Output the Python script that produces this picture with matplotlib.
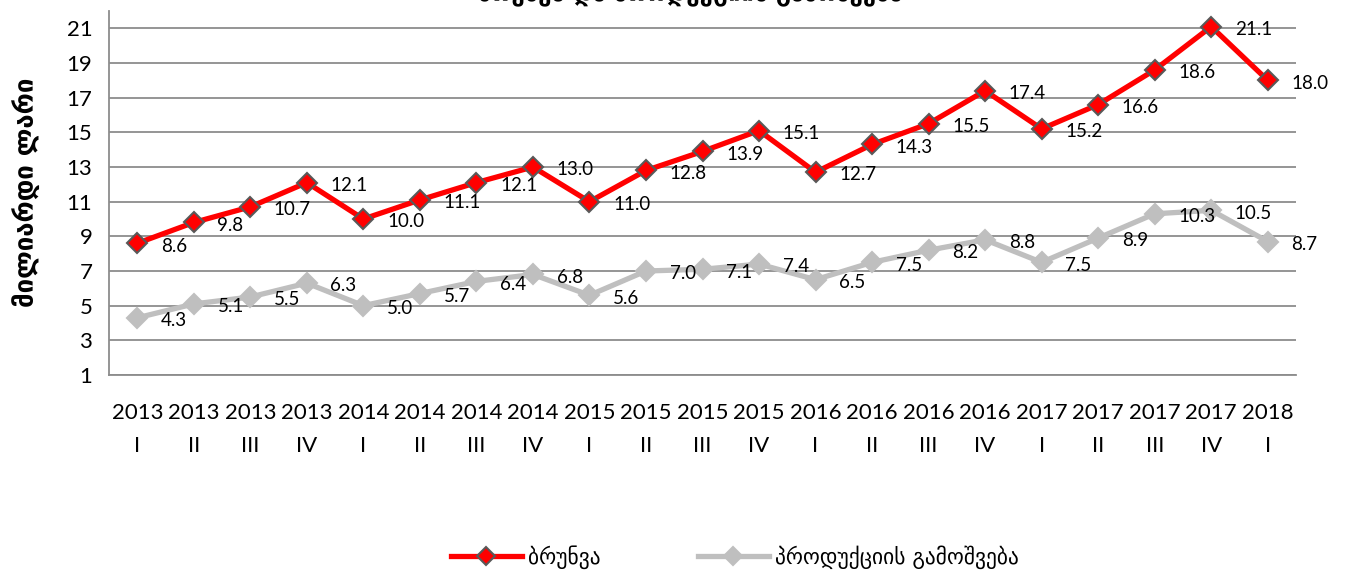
import matplotlib
matplotlib.use("Agg")
import matplotlib.pyplot as plt
import numpy as np

years = ["2013", "2013", "2013", "2013", "2014", "2014", "2014", "2014", "2015", "2015", "2015",
         "2015", "2016", "2016", "2016", "2016", "2017", "2017", "2017", "2017", "2018"]
quarters = ["I", "II", "III", "IV", "I", "II", "III", "IV", "I", "II", "III",
            "IV", "I", "II", "III", "IV", "I", "II", "III", "IV", "I"]
turnover = [8.6, 9.8, 10.7, 12.1, 10.0, 11.1, 12.1, 13.0, 11.0, 12.8, 13.9,
            15.1, 12.7, 14.3, 15.5, 17.4, 15.2, 16.6, 18.6, 21.1, 18.0]
output = [4.3, 5.1, 5.5, 6.3, 5.0, 5.7, 6.4, 6.8, 5.6, 7.0, 7.1,
          7.4, 6.5, 7.5, 8.2, 8.8, 7.5, 8.9, 10.3, 10.5, 8.7]
series_names = ["ბრუნვა", "პროდუქციის გამოშვება"]
ylabel = "მილიარდი ლარი"
title = "ბრუნვა და პროდუქციის გამოშვება"
yticks = [1, 3, 5, 7, 9, 11, 13, 15, 17, 19, 21]

FAM = ["Lato", "DejaVu Sans"]
plt.rcParams["font.family"] = FAM

fig = plt.figure(figsize=(13.45, 5.76), dpi=100)
ax = fig.add_axes([109/1345, 1-375/576, (1296-109)/1345, (375-11)/576])

x = np.arange(len(turnover))
labels = [f"{y}\n{q}" for y, q in zip(years, quarters)]

ax.plot(x, turnover, color="#FF0000", lw=3.8, marker="D", ms=10.5,
        mfc="#FF0000", mec="#595959", mew=1.5, label=series_names[0], zorder=4)
ax.plot(x, output, color="#BFBFBF", lw=3.8, marker="D", ms=10.5,
        mfc="#BFBFBF", mec="#BFBFBF", mew=1.5, label=series_names[1], zorder=3)

for xi, v in zip(x, turnover):
    ax.annotate(f"{v:.1f}", (xi, v), xytext=(17, -2), textcoords="offset points",
                ha="left", va="center", fontsize=13.5, color="black")
for xi, v in zip(x, output):
    ax.annotate(f"{v:.1f}", (xi, v), xytext=(17, -2), textcoords="offset points",
                ha="left", va="center", fontsize=13.5, color="black")

ax.set_xlim(-0.5, len(turnover) - 0.5)
ax.set_ylim(1, 22)
ax.set_yticks(yticks)
ax.tick_params(axis="y", labelsize=16, length=0, pad=12)
ax.set_xticks(x)
ax.set_xticklabels(labels, fontsize=16, linespacing=1.85)
ax.tick_params(axis="x", length=0, pad=20)
ax.grid(axis="y", color="#8C8C8C", lw=1.3)
ax.set_axisbelow(True)
for s in ["top", "right"]:
    ax.spines[s].set_visible(False)
for s in ["left", "bottom"]:
    ax.spines[s].set_color("#8C8C8C")
    ax.spines[s].set_linewidth(1.3)

fig.text(27/1345, 1-192/576, ylabel, rotation=90, ha="center", va="center",
         fontsize=18.5, fontweight="bold", family="DejaVu Sans")
fig.text(690/1345, 1.012, title, ha="center", va="center",
         fontsize=17, fontweight="bold", family="DejaVu Sans")

leg = fig.legend(loc="center", bbox_to_anchor=(735/1345, 1-557/576), ncol=2,
                 frameon=False, fontsize=15.5, handlelength=3.3, columnspacing=4.5,
                 handletextpad=0.3)
for t in leg.get_texts():
    t.set_family("DejaVu Sans")
for h in leg.legend_handles:
    h.set_markersize(9)

fig.savefig("out.png", dpi=100)
